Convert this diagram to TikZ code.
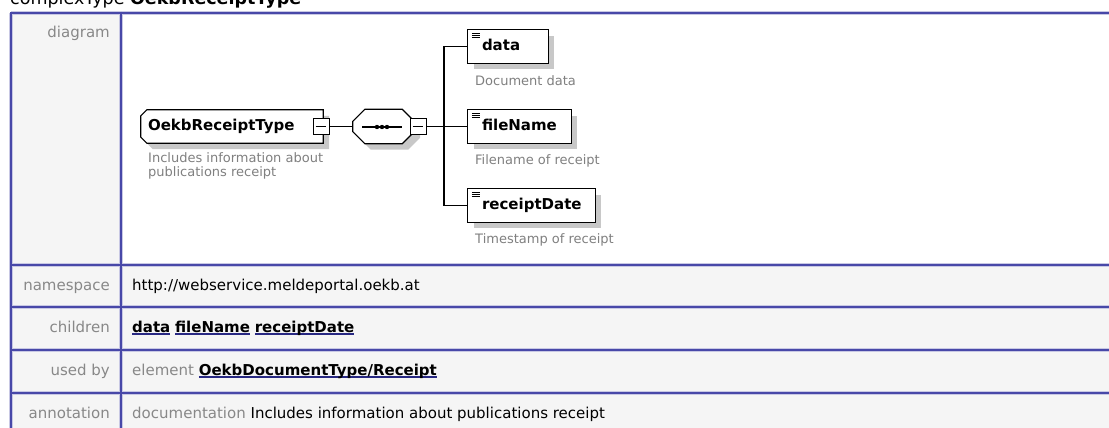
\documentclass[tikz,border=0pt]{standalone}
\usepackage{fontspec}
\setmainfont{DejaVu Sans}
\usetikzlibrary{calc}
\pgfdeclarelayer{bg}
\pgfdeclarelayer{shp}
\pgfsetlayers{bg,shp,main}
\definecolor{tblue}{RGB}{72,72,168}
\definecolor{tlight}{RGB}{200,200,228}
\definecolor{cellgray}{RGB}{245,245,245}
\definecolor{lblgray}{RGB}{136,136,136}
\definecolor{descgray}{RGB}{128,128,128}
\definecolor{shgray}{RGB}{200,200,200}
\definecolor{ulblue}{RGB}{40,40,130}
\newcommand{\lnk}[1]{\setbox0\hbox{\bfseries #1}\rlap{\color{ulblue}\rule[-2.6pt]{\wd0}{1.3pt}}\box0\relax}
% left-chamfered box path: node, dx, dy, chamfer, options
\newcommand{\lchamf}[5]{\path[#5] ($(#1.north west)+(#4+#2,#3)$) -- ($(#1.north east)+(#2,#3)$) -- ($(#1.south east)+(#2,#3)$) -- ($(#1.south west)+(#4+#2,#3)$) -- ($(#1.south west)+(#2,#3-#4)$) -- ($(#1.north west)+(#2,#3+#4)$) -- cycle;}
% octagon path: node, dx, dy, chamfer, options
\newcommand{\octo}[5]{\path[#5] ($(#1.north west)+(#4+#2,#3)$) -- ($(#1.north east)+(#2-#4,#3)$) -- ($(#1.north east)+(#2,#3+#4)$) -- ($(#1.south east)+(#2,#3-#4)$) -- ($(#1.south east)+(#2-#4,#3)$) -- ($(#1.south west)+(#4+#2,#3)$) -- ($(#1.south west)+(#2,#3-#4)$) -- ($(#1.north west)+(#2,#3+#4)$) -- cycle;}
% rectangle with shadow and icon
\newcommand{\elembox}[1]{%
  \fill[shgray] ($(#1.north west)+(6,6)$) rectangle ($(#1.south east)+(6,6)$);
  \filldraw[fill=white, draw=black, line width=1.2pt] (#1.north west) rectangle (#1.south east);
  \foreach \yy in {3.3,5.7,8.1} {\draw[line width=0.9pt] ($(#1.north west)+(4,\yy)$) -- ++(8,0);}}
\begin{document}
\begin{tikzpicture}[x=1pt,y=-1pt,
  lbl/.style={anchor=base east, inner sep=0, text=lblgray, font=\fontsize{15}{18}\selectfont},
  val/.style={anchor=base west, inner sep=0, font=\fontsize{15}{18}\selectfont},
  desc/.style={inner sep=0, text=descgray, font=\fontsize{13}{14}\selectfont, align=left},
  elem/.style={inner sep=0, minimum height=33pt, font=\fontsize{15}{18}\selectfont\bfseries, text height=11pt, text depth=3pt},
  minus/.style={draw, fill=white, minimum size=16pt, inner sep=0, line width=0.9pt},
  conn/.style={line width=1.2pt},
  grid/.style={line width=4pt, tlight},
  gridc/.style={line width=2pt, tblue}]
\useasboundingbox (0,0) rectangle (1109,428);
\clip (0,0) rectangle (1109,428);
% ---------- table ----------
\begin{pgfonlayer}{bg}
\fill[white] (0,0) rectangle (1109,428);
\fill[cellgray] (11,13) rectangle (121,440);
\fill[cellgray] (121,265) rectangle (1120,440);
\foreach \yy in {13,265,307,350,393} {\draw[grid] (11,\yy) -- (1120,\yy);}
\foreach \xx in {11,121} {\draw[grid] (\xx,13) -- (\xx,440);}
\foreach \yy in {13,265,307,350,393} {\draw[gridc] (10,\yy) -- (1120,\yy);}
\foreach \xx in {11,121} {\draw[gridc] (\xx,12) -- (\xx,440);}
\end{pgfonlayer}
% title
\node[anchor=base west, inner sep=0, font=\fontsize{17.5}{20}\selectfont] (title) at (10,5) {complexType \textbf{OekbReceiptType}};
% labels
\node[lbl] (l1) at (110,38) {diagram};
\node[lbl] (l2) at (110,290) {namespace};
\node[lbl] (l3) at (110,332) {children};
\node[lbl] (l4) at (110,375) {used by};
\node[lbl] (l5) at (110,418) {annotation};
% values
\node[val] (v2) at (132,290) {http://webservice.meldeportal.oekb.at};
\node[val] (v3) at (132,332) {\lnk{data} \lnk{fileName} \lnk{receiptDate}};
\node[val] (v4) at (132,375) {{\color{lblgray}element} \lnk{OekbDocumentType/Receipt}};
\node[val] (v5) at (132,418) {{\color{lblgray}documentation} Includes information about publications receipt};
% ---------- diagram ----------
\node[elem, minimum width=182pt] (main) at (232,126.5) {\makebox[182pt][l]{\hspace{7pt}OekbReceiptType}};
\node[inner sep=0, minimum width=61pt, minimum height=34pt] (seq) at (383.5,126.5) {};
\node[elem] (data) at (508,46.5) {\makebox[80pt][l]{\hspace{14pt}data}};
\node[elem] (fileName) at (519.5,126.5) {\makebox[103pt][l]{\hspace{14pt}fileName}};
\node[elem] (receiptDate) at (531.5,205.5) {\makebox[127pt][l]{\hspace{14pt}receiptDate}};
\begin{pgfonlayer}{shp}
\lchamf{main}{6}{6}{6}{fill=shgray}
\lchamf{main}{0}{0}{6}{fill=white, draw=black, line width=1.2pt}
\octo{seq}{6}{6}{12}{fill=shgray}
\octo{seq}{0}{0}{12}{fill=white, draw=black, line width=1.2pt}
\elembox{data}
\elembox{fileName}
\elembox{receiptDate}
\end{pgfonlayer}
% sequence symbol
\draw[conn] ($(seq.center)+(-21.5,0.5)$) -- ($(seq.center)+(18.5,0.5)$);
\foreach \dx in {-6.5,-1.5,3.5} {\fill ($(seq.center)+(\dx,0.5)$) circle (2.2pt);}
% minus boxes
\node[minus] (mminus) at (321,126.5) {};
\node[minus] (sminus) at (418,126.5) {};
\draw[line width=0.9pt] ($(mminus.west)+(3,0)$) -- ($(mminus.east)+(-3,0)$);
\draw[line width=0.9pt] ($(sminus.west)+(3,0)$) -- ($(sminus.east)+(-3,0)$);
% connectors
\coordinate (bus) at (444,126.5);
\draw[conn] (mminus.east) -- (seq.west);
\draw[conn] (sminus.east) -- (bus);
\draw[conn] (data.west) -| (bus) |- (receiptDate.west);
\draw[conn] (bus) -- (fileName.west);
% descriptions
\node[desc, anchor=north west] (mdesc) at (148,152.5) {Includes information about\\publications receipt};
\node[desc, anchor=base west] (ddesc) at (475,85) {Document data};
\node[desc, anchor=base west] (fdesc) at (475,164) {Filename of receipt};
\node[desc, anchor=base west] (rdesc) at (475,243) {Timestamp of receipt};
\end{tikzpicture}
\end{document}
